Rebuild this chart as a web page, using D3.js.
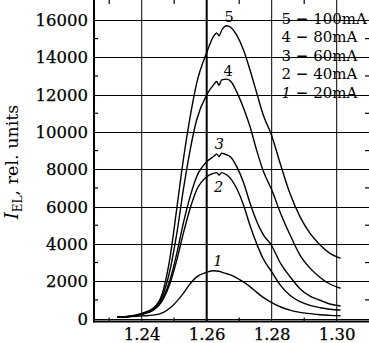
<!DOCTYPE html>
<html><head><meta charset="utf-8">
<script src="https://cdn.jsdelivr.net/npm/d3@7"></script>
<style>body{margin:0;background:#fff}svg{display:block}</style>
</head><body><svg id="c" width="369" height="343"></svg>
<script>
const energy = [1.2325,1.236,1.24,1.2436,1.2467,1.2487,1.2508,1.2528,1.2549,1.2569,1.26,1.2621,1.2631,1.2638,1.2646,1.2662,1.2677,1.2692,1.2713,1.2733,1.2754,1.2774,1.28,1.2826,1.2856,1.2887,1.2918,1.2949,1.2979,1.3012];
const curve1 = [60,90,140,180,330,560,920,1350,1860,2230,2480,2560,2550,2530,2490,2400,2310,2180,1960,1710,1400,1130,850,630,450,330,260,200,170,150];
const curve2 = [70,100,230,450,1070,1880,3130,4560,5900,6890,7600,7780,7820,7690,7820,7690,7420,6980,6100,5000,4000,3200,2500,1800,1250,900,700,580,500,455];
const curve3 = [70,105,240,470,1160,2060,3490,5100,6530,7600,8410,8680,8820,8680,8860,8770,8590,8150,7300,6200,5200,4500,3900,3000,2250,1600,1200,980,780,670];
const curve4 = [70,110,250,500,1340,2590,4560,6890,9030,10640,11990,12520,12700,12500,12790,12830,12650,12160,11300,10300,9000,7900,6900,5700,4500,3400,2700,2200,1850,1620];
const curve5 = [80,120,280,560,1560,3250,5900,8500,10800,12600,14250,15120,15300,15150,15450,15690,15560,15200,14400,13330,12080,10910,9800,8320,6710,5460,4560,3940,3490,3225];
const curveNames = ["1","2","3","4","5"];
const legendNums = ["5","4","3","2","1"];
const legendCurrents = ["100mA","80mA","60mA","40mA","20mA"];
const xTicks = [1.24,1.26,1.28,1.30];
const xMinor = [1.23,1.25,1.27,1.29];
const yTicks = [0,2000,4000,6000,8000,10000,12000,14000,16000];
const yMinor = [1000,3000,5000,7000,9000,11000,13000,15000];

const svg = d3.select("#c");
const W = 369, H = 343;
const L = 94, R = 370, T = 0, B = 321.5;
const x = d3.scaleLinear().domain([1.22532, 1.31025]).range([L, R]);
const y = d3.scaleLinear().domain([-160, 17070]).range([B, T]);
const font = "DejaVu Serif";

// gridlines
const g = svg.append("g");
g.selectAll("line.hg").data(yTicks).join("line")
  .attr("x1", L).attr("x2", R).attr("y1", d => Math.round(y(d)) + 0.5).attr("y2", d => Math.round(y(d)) + 0.5)
  .attr("stroke", "#000").attr("stroke-width", 1);
g.selectAll("line.vg").data(xTicks).join("line")
  .attr("x1", d => x(d)).attr("x2", d => x(d)).attr("y1", T).attr("y2", B)
  .attr("stroke", "#000").attr("stroke-width", d => d === 1.26 ? 2 : 1);

// minor ticks
g.selectAll("line.xmb").data(xMinor).join("line")
  .attr("x1", d => x(d)).attr("x2", d => x(d)).attr("y1", B).attr("y2", B - 4)
  .attr("stroke", "#000").attr("stroke-width", 1.2);
g.selectAll("line.xmt").data(xMinor).join("line")
  .attr("x1", d => x(d)).attr("x2", d => x(d)).attr("y1", T).attr("y2", T + 4)
  .attr("stroke", "#000").attr("stroke-width", 1.2);
g.selectAll("line.yml").data(yMinor).join("line")
  .attr("x1", L).attr("x2", L + 4).attr("y1", d => y(d)).attr("y2", d => y(d))
  .attr("stroke", "#000").attr("stroke-width", 1.2);
g.selectAll("line.ymr").data(yMinor).join("line")
  .attr("x1", W).attr("x2", W - 4).attr("y1", d => y(d)).attr("y2", d => y(d))
  .attr("stroke", "#000").attr("stroke-width", 1.2);

// frame
svg.append("line").attr("x1", L).attr("x2", L).attr("y1", T).attr("y2", B + 1)
  .attr("stroke", "#000").attr("stroke-width", 2);
svg.append("line").attr("x1", L - 1).attr("x2", R).attr("y1", B).attr("y2", B)
  .attr("stroke", "#000").attr("stroke-width", 2);

// axis labels via d3 axes
const yAxis = d3.axisLeft(y).tickValues(yTicks).tickSize(0).tickPadding(6).tickFormat(d3.format("d"));
const ya = svg.append("g").attr("transform", `translate(${L},0)`).call(yAxis);
ya.select(".domain").remove();
ya.selectAll("text").attr("font-family", font).attr("font-size", 16.5).attr("fill", "#000")
  .attr("dy", "0.36em").attr("stroke", "#000").attr("stroke-width", 0.25);
ya.selectAll(".tick").attr("transform", d => `translate(0,${Math.round(y(d)) + 0.5})`);

const xAxis = d3.axisBottom(x).tickValues(xTicks).tickSize(0).tickPadding(0).tickFormat(d3.format(".2f"));
const xa = svg.append("g").attr("transform", `translate(0,${B})`).call(xAxis);
xa.select(".domain").remove();
xa.selectAll("text").attr("font-family", font).attr("font-size", 16.5).attr("fill", "#000")
  .attr("y", 0).attr("dy", 18.5).attr("stroke", "#000").attr("stroke-width", 0.25);

// curves
const series = [curve1, curve2, curve3, curve4, curve5];
const line = d3.line().x((d, i) => x(energy[i])).y(d => y(d)).curve(d3.curveMonotoneX);
svg.append("g").selectAll("path").data(series).join("path")
  .attr("d", d => line(d)).attr("fill", "none").attr("stroke", "#000").attr("stroke-width", 1.4);

// curve labels
const labelPos = [[1.2634, 3080, true], [1.2637, 7060, true], [1.2639, 9350, true], [1.2666, 13250, false], [1.2669, 16180, false]];
svg.append("g").selectAll("text").data(curveNames).join("text")
  .attr("x", (d, i) => x(labelPos[i][0])).attr("y", (d, i) => y(labelPos[i][1]))
  .attr("text-anchor", "middle").attr("dominant-baseline", "central")
  .attr("font-family", font).attr("font-size", 14.5)
  .attr("font-style", (d, i) => labelPos[i][2] ? "italic" : "normal")
  .text(d => d);

// legend
const lg = svg.append("g").attr("font-family", font).attr("font-size", 15);
legendNums.forEach((n, i) => {
  const t = lg.append("text").attr("x", 281.5).attr("y", 18.6 + i * 18.6).attr("dominant-baseline", "central");
  t.append("tspan").attr("font-style", n === "1" ? "italic" : "normal").text(n);
  t.append("tspan").text(" ");
  t.append("tspan").attr("font-weight", "bold").text("\u2212");
  t.append("tspan").text(" " + legendCurrents[i]);
});

// y title
const yt = svg.append("text").attr("transform", "translate(18,162) rotate(-90)")
  .attr("text-anchor", "middle").attr("font-family", font).attr("font-size", 17.5);
yt.append("tspan").attr("font-style", "italic").attr("font-size", 18).text("I");
yt.append("tspan").attr("font-size", 12).attr("dy", 4).text("EL");
yt.append("tspan").attr("dy", -4).text(", rel. units");
</script></body></html>
